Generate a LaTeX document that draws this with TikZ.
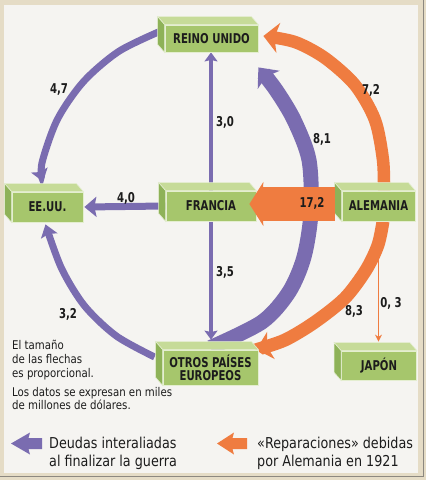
\documentclass[tikz,border=0pt]{standalone}
\usepackage{fontspec}
\setmainfont{DejaVu Sans}[FakeStretch=0.85]
\newfontfamily\bx{DejaVu Sans}[FakeStretch=0.75]
\usetikzlibrary{arrows.meta,calc}
\definecolor{pur}{RGB}{122,108,176}
\definecolor{ora}{RGB}{239,124,64}
\definecolor{gfront}{RGB}{166,198,108}
\definecolor{gtop}{RGB}{198,219,152}
\definecolor{gside}{RGB}{142,178,88}
\definecolor{gedge}{RGB}{228,238,208}
\definecolor{txt}{RGB}{28,28,28}
\definecolor{framec}{RGB}{229,220,198}
\definecolor{panelc}{RGB}{245,244,241}
\definecolor{shadowc}{RGB}{140,136,128}
\pgfdeclarelayer{bg}
\pgfsetlayers{bg,main}
\newcommand\boxfaces[1]{%
  \filldraw[fill=gtop, draw=gedge, line width=0.6pt] (#1.north west) -- ++(-7,-8) -- ($(#1.north east)+(-7,-8)$) -- (#1.north east) -- cycle;
  \filldraw[fill=gside, draw=gedge, line width=0.6pt] (#1.north west) -- ++(-7,-8) -- ($(#1.south west)+(-7,-8)$) -- (#1.south west) -- cycle;
}
\tikzset{
  gbox/.style={fill=gfront, draw=gedge, line width=0.8pt, inner sep=0pt, align=center,
    text=txt, font=\bx\bfseries\fontsize{13.5}{13}\selectfont},
  lab/.style={font=\bx\bfseries\fontsize{13.5}{14}\selectfont, text=txt, inner sep=0pt},
  note/.style={font=\fontsize{12}{14}\selectfont, text=txt, inner sep=0pt, anchor=base west},
  leg/.style={font=\fontsize{15}{17}\selectfont, text=txt, inner sep=0pt, anchor=base west},
}
\begin{document}
\begin{tikzpicture}[x=1pt,y=-1pt]
\useasboundingbox (0,0) rectangle (426,480);
\begin{pgfonlayer}{bg}
  \fill[framec] (0,0) rectangle (426,480);
  \fill[panelc] (4,5) rectangle (418,473);
  \draw[shadowc, line width=1.2pt] (0,476.5) -- (423.5,476.5) -- (423.5,0);
\end{pgfonlayer}

% boxes
\node[gbox, minimum width=93pt, minimum height=27pt] (ru) at (211.5,38.5) {REINO UNIDO};
\boxfaces{ru}
\node[gbox, minimum width=90pt, minimum height=30pt] (fr) at (211,206) {FRANCIA};
\boxfaces{fr}
\node[gbox, minimum width=73pt, minimum height=30pt] (al) at (378.5,206) {ALEMANIA};
\boxfaces{al}
\node[gbox, minimum width=71pt, minimum height=30pt] (ee) at (47.5,207) {EE.UU.};
\boxfaces{ee}
\node[gbox, minimum width=95pt, minimum height=35pt] (ot) at (210.5,367.5) {OTROS PAÍSES\\EUROPEOS};
\boxfaces{ot}
\node[gbox, minimum width=75pt, minimum height=29pt] (ja) at (379,365.5) {JAPÓN};
\boxfaces{ja}

\begin{pgfonlayer}{bg}
  % purple debts
  \draw[pur, line width=3.5pt, -{Stealth[length=9pt,width=13pt,inset=1.5pt]}]
    (fr.north) -- (fr.north |- ru.south);
  \draw[pur, line width=3.5pt, -{Stealth[length=9pt,width=13pt,inset=1.5pt]}]
    (fr.south) -- ([yshift=10pt]fr.south |- ot.north);
  \draw[pur, line width=7pt, -{Stealth[length=12pt,width=20pt,inset=2pt]}]
    (fr.west) -- ([xshift=1pt]ee.east);
  \draw[pur, line width=7pt, -{Stealth[length=12pt,width=17pt,inset=2pt]}]
    plot[smooth] coordinates {([xshift=-5pt,yshift=7pt]ru.west) (118.6,51.5) (83.5,81.6) (57.3,119.6) (41.9,163.2) ([xshift=-4.5pt,yshift=10pt]ee.north)};
  \draw[pur, line width=7pt, -{Stealth[length=12pt,width=17pt,inset=2pt]}]
    plot[smooth] coordinates {([xshift=-8pt,yshift=10.5pt]ot.west) (116.2,335.9) (84.4,305.7) (61.5,268.3) ([xshift=-2pt,yshift=-2pt]ee.south)};
  \draw[pur, line width=15pt, -{Stealth[length=16pt,width=28pt,inset=4pt]}]
    plot[smooth] coordinates {([yshift=2pt]ot.north) (262,322) (289,292) (304,257) (311,212) (309,160) (294,120) (276,90) ([yshift=-15pt]ru.south east)};
  % orange reparations
  \draw[ora, line width=12.5pt, -{Stealth[length=15pt,width=30pt,inset=4pt]}]
    plot[smooth] coordinates {([xshift=5.5pt]al.north) (383,160) (375,120) (355,85) (325,58) (295,42) ([xshift=5pt,yshift=2.5pt]ru.east)};
  \draw[ora, line width=13pt, -{Stealth[length=15pt,width=28pt,inset=4pt]}]
    plot[smooth] coordinates {([xshift=4.5pt]al.south) (378,245) (366,270) (345,298) (315,322) (285,340) ([xshift=-2pt,yshift=18pt]ot.east)};
  \draw[ora, line width=1.5pt, -{Stealth[length=7pt,width=7pt]}]
    (al.south) -- ([yshift=9pt]al.south |- ja.north);
\end{pgfonlayer}
\draw[ora, line width=34pt, -{Stealth[length=14pt,width=44pt,inset=2pt]}]
  ([xshift=-7pt,yshift=2pt]al.west) -- ([xshift=-7pt,yshift=2pt]fr.east);

% value labels
\node[lab] (l47) at (59,90) {4,7};
\node[lab] (l30) at (225,122) {3,0};
\node[lab] (l81) at (322,139) {8,1};
\node[lab] (l72) at (371,90) {7,2};
\node[lab] (l40) at (126,198) {4,0};
\node[lab] (l172) at (312,203) {17,2};
\node[lab] (l35) at (225,272) {3,5};
\node[lab] (l32) at (68,314) {3,2};
\node[lab] (l83) at (354,311) {8,3};
\node[lab] (l03) at (391,303) {0, 3};

% notes
\node[note] (n1) at (12,349) {El tamaño};
\node[note] (n2) at (12,363) {de las flechas};
\node[note] (n3) at (12,377) {es proporcional.};
\node[note] (n4) at (12,396) {Los datos se expresan en miles};
\node[note] (n5) at (12,409.5) {de millones de dólares.};

% legend
\fill[pur] (11,443.5) -- (30,432.5) -- (28.5,438) -- (42,438) -- (42,449) -- (28.5,449) -- (30,454.5) -- cycle;
\fill[ora] (217,443.5) -- (234,432.5) -- (232.5,438) -- (247,438) -- (247,449) -- (232.5,449) -- (234,454.5) -- cycle;
\node[leg] (g1) at (49,448.5) {Deudas interaliadas};
\node[leg] (g2) at (49,466) {al finalizar la guerra};
\node[leg] (g3) at (257,448.5) {«Reparaciones» debidas};
\node[leg] (g4) at (257,466) {por Alemania en 1921};
\end{tikzpicture}
\end{document}
